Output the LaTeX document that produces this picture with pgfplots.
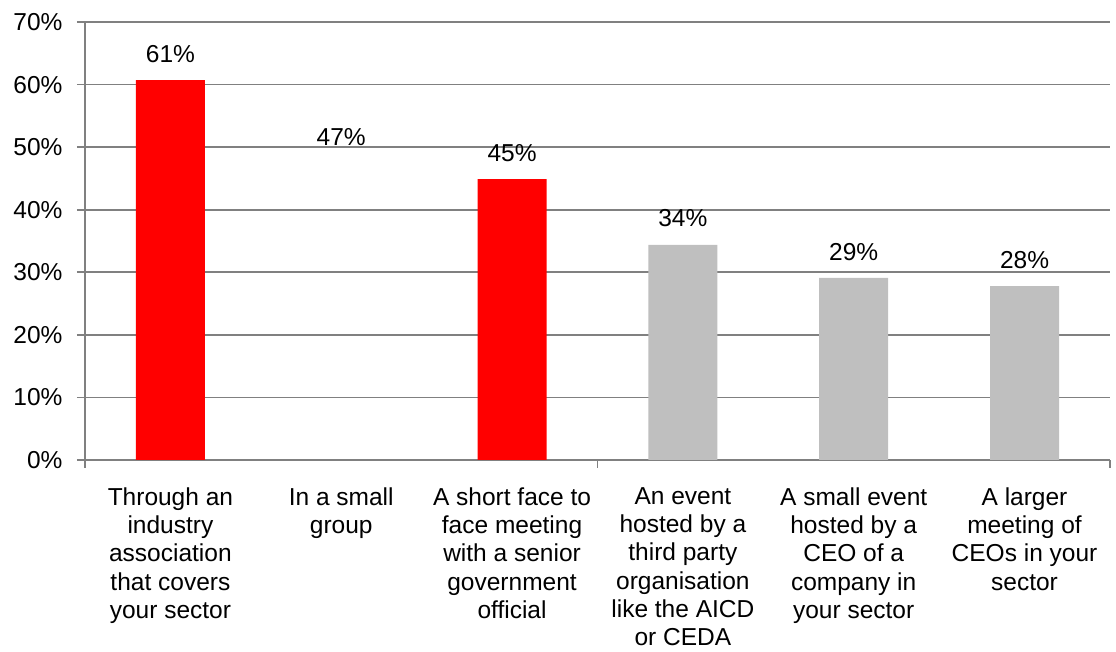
\documentclass[border=0pt]{standalone}
\usepackage{fontspec}
\setmainfont{Liberation Sans}
\usepackage{pgfplots}
\pgfplotsset{compat=1.18}
\definecolor{barred}{RGB}{255,0,0}
\definecolor{bargray}{RGB}{191,191,191}
\definecolor{gridgray}{RGB}{128,128,128}
\begin{document}
\begin{tikzpicture}[font=\fontsize{24.5}{28.3}\selectfont]
\path[use as bounding box] (-85pt,-192pt) rectangle (1031pt,460pt);
\begin{axis}[
    scale only axis,
    width=1025pt, height=438pt,
    ybar, bar width=69pt, bar shift=0pt,
    xmin=-0.5, xmax=5.5,
    ymin=0, ymax=70,
    ytick={0,10,...,70},
    yticklabel={\pgfmathprintnumber{\tick}\%},
    /pgf/number format/assume math mode=true,
    xtick={-0.5,2.5,5.5},
    xticklabels={},
    extra x ticks={0,...,5},
    extra x tick labels={
        {Through an\\industry\\association\\that covers\\your sector},
        {In a small\\group},
        {A short face to\\face meeting\\with a senior\\government\\official},
        {An event\\hosted by a\\third party\\organisation\\like the AICD\\or CEDA},
        {A small event\\hosted by a\\CEO of a\\company in\\your sector},
        {A larger\\meeting of\\CEOs in your\\sector}},
    extra x tick style={major tick length=0pt, xticklabel style={align=center, anchor=north, yshift=-24pt}},
    axis x line*=bottom, axis y line*=left,
    axis line style={gridgray, line width=1.8pt, -},
    ymajorgrids,
    grid style={gridgray, line width=1.8pt},
    tick style={gridgray, line width=1.8pt},
    tick align=outside,
    major tick length=8pt,
    yticklabel style={xshift=-11pt},
    point meta=explicit symbolic,
    nodes near coords={\pgfplotspointmeta\%},
    nodes near coords style={yshift=14pt},
]
\addplot[fill=barred, draw=none] coordinates {(0,60.7) [61] (2,44.9) [45]};
\addplot[fill=none, draw=none] coordinates {(1,47.5) [47]};
\addplot[fill=bargray, draw=none] coordinates {(3,34.4) [34] (4,29.1) [29] (5,27.8) [28]};
\end{axis}
\end{tikzpicture}
\end{document}
